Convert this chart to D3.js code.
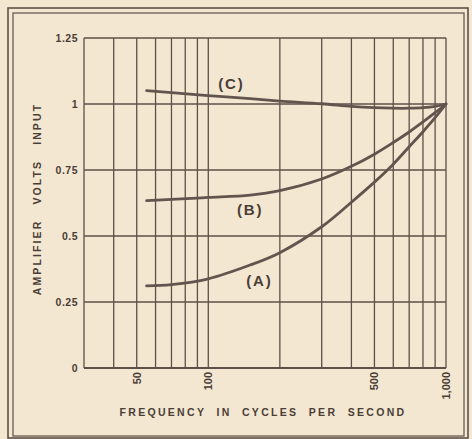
<!DOCTYPE html>
<meta charset="utf-8">
<script src="https://d3js.org/d3.v7.min.js"></script>
<body>
<style>
  html, body { margin: 0; padding: 0; background: #f3e7d2; }
  svg text { font-family: "Liberation Sans", "DejaVu Sans", sans-serif; font-weight: bold; fill: #4a3e37; white-space: pre; }
</style>
<svg width="472" height="439"></svg>
<script>
  // frequency (c/s) and amplifier input volts for the three curves
  var freqs = [55, 70, 100, 150, 200, 300, 400, 500, 600, 700, 800, 900, 1000];
  var curveA = [0.311, 0.316, 0.338, 0.390, 0.437, 0.535, 0.628, 0.704, 0.772, 0.838, 0.895, 0.948, 1.0];
  var curveB = [0.634, 0.639, 0.646, 0.655, 0.672, 0.716, 0.764, 0.810, 0.854, 0.894, 0.932, 0.967, 1.0];
  var curveC = [1.051, 1.043, 1.032, 1.020, 1.011, 1.001, 0.991, 0.986, 0.984, 0.984, 0.986, 0.991, 1.0];
  var gridFreqs = [40, 50, 60, 70, 80, 90, 100, 200, 300, 400, 500, 600, 700, 800, 900, 1000];
  var xTickFreqs = [50, 100, 500, 1000];
  var xTickLabels = ["50", "100", "500", "1,000"];
  var yTicks = [0, 0.25, 0.5, 0.75, 1, 1.25];
  var yTickLabels = ["0", "0.25", "0.5", "0.75", "1", "1.25"];
  var curveLabels = [
    { name: "(C)", f: 125, v: 1.057 },
    { name: "(B)", f: 150, v: 0.58 },
    { name: "(A)", f: 164, v: 0.31 }
  ];

  var ink = "#5e5048";
  var svg = d3.select("svg");

  // double frame
  svg.append("rect").attr("x", 8).attr("y", 8).attr("width", 460).attr("height", 430)
    .attr("fill", "none").attr("stroke", ink).attr("stroke-width", 1.6);
  svg.append("rect").attr("x", 13).attr("y", 13).attr("width", 451).attr("height", 423)
    .attr("fill", "none").attr("stroke", ink).attr("stroke-width", 1.2);

  var x = d3.scaleLog().domain([30, 1000]).range([84, 446]);
  var y = d3.scaleLinear().domain([0, 1.25]).range([368, 38]);

  var g = svg.append("g");

  // grid
  g.selectAll(".vg").data(gridFreqs).enter().append("line")
    .attr("x1", d => x(d)).attr("x2", d => x(d))
    .attr("y1", y(0)).attr("y2", y(1.25))
    .attr("stroke", ink).attr("stroke-width", 1.3);
  g.selectAll(".hg").data(yTicks).enter().append("line")
    .attr("x1", x(30)).attr("x2", x(1000))
    .attr("y1", d => y(d)).attr("y2", d => y(d))
    .attr("stroke", ink).attr("stroke-width", 1.3);
  g.append("line").attr("x1", x(30)).attr("x2", x(30)).attr("y1", y(0)).attr("y2", y(1.25))
    .attr("stroke", ink).attr("stroke-width", 1.3);
  g.append("line").attr("x1", x(30)).attr("x2", x(1000)).attr("y1", y(0)).attr("y2", y(0))
    .attr("stroke", ink).attr("stroke-width", 2);

  // y tick labels
  g.selectAll(".yt").data(yTicks).enter().append("text")
    .attr("x", 78).attr("y", d => y(d) + 4)
    .attr("text-anchor", "end").attr("font-size", 10.5).attr("letter-spacing", 0.5)
    .text((d, i) => yTickLabels[i]);

  // x tick labels, rotated
  g.selectAll(".xt").data(xTickFreqs).enter().append("text")
    .attr("transform", d => "translate(" + (x(d) + 4) + ",372) rotate(-90)")
    .attr("text-anchor", "end").attr("font-size", 11)
    .text((d, i) => xTickLabels[i]);

  // axis titles
  svg.append("text").attr("x", 263).attr("y", 416).attr("text-anchor", "middle")
    .attr("font-size", 10.5).attr("letter-spacing", 2.3)
    .text("FREQUENCY  IN  CYCLES  PER  SECOND");
  svg.append("text").attr("transform", "translate(41,199) rotate(-90)").attr("text-anchor", "middle")
    .attr("font-size", 10.5).attr("letter-spacing", 2.1)
    .text("AMPLIFIER   VOLTS   INPUT");

  // curves
  var line = d3.line().x(d => x(d[0])).y(d => y(d[1])).curve(d3.curveCatmullRom.alpha(0.5));
  [curveA, curveB, curveC].forEach(function (vals) {
    g.append("path").datum(freqs.map((f, i) => [f, vals[i]]))
      .attr("d", line).attr("fill", "none")
      .attr("stroke", "#62554e").attr("stroke-width", 2.8).attr("stroke-linecap", "round");
  });

  g.selectAll(".cl").data(curveLabels).enter().append("text")
    .attr("x", d => x(d.f)).attr("y", d => y(d.v))
    .attr("text-anchor", "middle").attr("font-size", 15).attr("letter-spacing", 1.8)
    .text(d => d.name);
</script>
</body>
